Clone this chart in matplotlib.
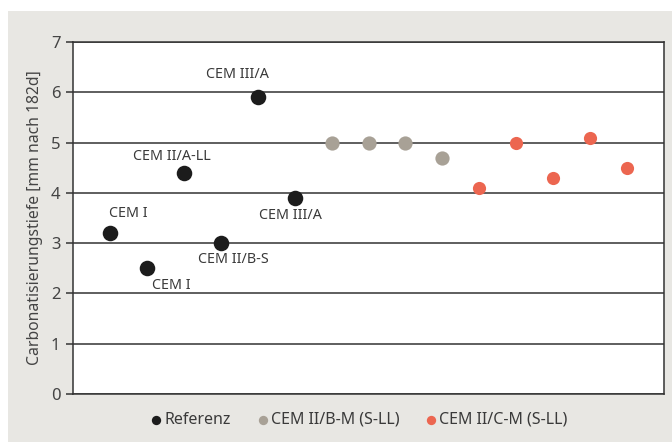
import matplotlib.pyplot as plt
from matplotlib.patches import Rectangle

# carbonation depth after 182 d
ref_x = [1, 2, 3, 4, 5, 6]
ref_y = [3.2, 2.5, 4.4, 3.0, 5.9, 3.9]
ref_labels = ['CEM I', 'CEM I', 'CEM II/A-LL', 'CEM II/B-S', 'CEM III/A', 'CEM III/A']
# label offsets in pixels from the point (dx, dy)
ref_label_off = [(18, 20), (24, -17), (-12, 16), (13, -16), (-20, 23), (-4, -18)]

bm_x = [7, 8, 9, 10]
bm_y = [5.0, 5.0, 5.0, 4.7]

cm_x = [11, 12, 13, 14, 15]
cm_y = [4.1, 5.0, 4.3, 5.1, 4.5]

bg = '#e8e7e3'
dark = '#1c1c1c'
grey = '#a8a196'
red = '#ec6650'
txt = '#3a3a3a'

plt.rcParams['font.family'] = ['Noto Sans', 'DejaVu Sans']

fig = plt.figure(figsize=(6.72, 4.42), dpi=100, facecolor='white')
# grey panel, small white margin at left and top
fig.patches.append(Rectangle((8 / 672, 0), 1, 1 - 11 / 442, transform=fig.transFigure,
                             facecolor=bg, edgecolor='none', zorder=-10))

ax = fig.add_axes([73 / 672, 48 / 442, (664 - 73) / 672, (394 - 42) / 442])
ax.set_facecolor('white')

ax.set_xlim(0, 16)
ax.set_ylim(0, 7)
ax.set_yticks(range(0, 8))
ax.set_xticks([])
ax.yaxis.grid(True, color='#333333', linewidth=1.1)
ax.set_axisbelow(True)
for s in ax.spines.values():
    s.set_color('#333333')
    s.set_linewidth(1.1)
ax.tick_params(axis='y', length=5, width=1.1, color='#333333', labelsize=12,
               labelcolor='#444444', pad=4)
ax.set_ylabel('Carbonatisierungstiefe [mm nach 182d]', fontsize=11.3, color='#444444', labelpad=6)

ax.scatter(ref_x, ref_y, s=125, color=dark, zorder=3, linewidths=0)
ax.scatter(bm_x, bm_y, s=105, color=grey, zorder=3, linewidths=0)
ax.scatter(cm_x, cm_y, s=90, color=red, zorder=3, linewidths=0)

for x, y, t, (dx, dy) in zip(ref_x, ref_y, ref_labels, ref_label_off):
    ax.annotate(t, (x, y), xytext=(dx, dy), textcoords='offset pixels',
                ha='center', va='center', fontsize=10.3, color=txt)

# legend
h1 = ax.scatter([], [], s=45, color=dark, linewidths=0)
h2 = ax.scatter([], [], s=45, color=grey, linewidths=0)
h3 = ax.scatter([], [], s=45, color=red, linewidths=0)
leg = fig.legend([h1, h2, h3], ['Referenz', 'CEM II/B-M (S-LL)', 'CEM II/C-M (S-LL)'],
                 loc='center', bbox_to_anchor=(358 / 672, 1 - 420 / 442), ncol=3, frameon=False,
                 fontsize=11.5, handletextpad=0.0, columnspacing=1.5, handlelength=1.0)
for t in leg.get_texts():
    t.set_color(txt)

fig.savefig('out.png', dpi=100, facecolor='white')
